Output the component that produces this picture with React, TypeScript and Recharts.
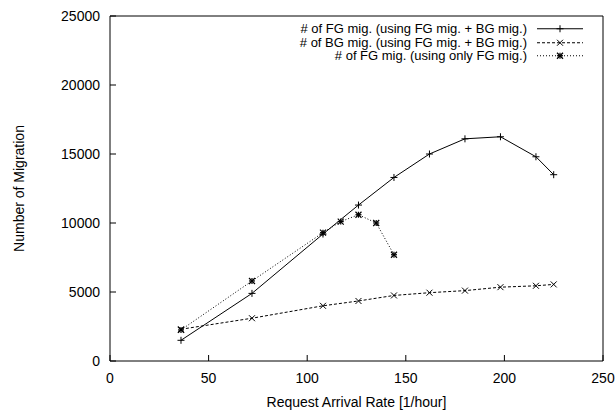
import React from 'react';
import { LineChart, Line, XAxis, YAxis, Legend } from 'recharts';

// Data
const rateBoth = [36, 72, 108, 126, 144, 162, 180, 198, 216, 225];
const fgMigBoth = [1500, 4900, 9200, 11300, 13300, 15000, 16100, 16250, 14800, 13500];
const bgMigBoth = [2300, 3100, 4000, 4350, 4750, 4950, 5100, 5350, 5450, 5550];
const rateFgOnly = [36, 72, 108, 117, 126, 135, 144];
const fgMigOnly = [2250, 5800, 9300, 10100, 10600, 10000, 7700];

const xTicks = [0, 50, 100, 150, 200, 250];
const yTicks = [0, 5000, 10000, 15000, 20000, 25000];

const seriesNames = [
  '# of FG mig. (using FG mig. + BG mig.)',
  '# of BG mig. (using FG mig. + BG mig.)',
  '# of FG mig. (using only FG mig.)',
];

const dataFgBoth = rateBoth.map((x, i) => ({ x, y: fgMigBoth[i] }));
const dataBgBoth = rateBoth.map((x, i) => ({ x, y: bgMigBoth[i] }));
const dataFgOnly = rateFgOnly.map((x, i) => ({ x, y: fgMigOnly[i] }));

const FONT = '"Liberation Sans", Arial, Helvetica, sans-serif';
const INK = '#000';

const PlusMark = ({ cx, cy, s = 3.5 }: any) => (
  <g stroke={INK} strokeWidth={1} fill="none">
    <line x1={cx - s} y1={cy} x2={cx + s} y2={cy} />
    <line x1={cx} y1={cy - s} x2={cx} y2={cy + s} />
  </g>
);
const CrossMark = ({ cx, cy, s = 3 }: any) => (
  <g stroke={INK} strokeWidth={1} fill="none">
    <line x1={cx - s} y1={cy - s} x2={cx + s} y2={cy + s} />
    <line x1={cx - s} y1={cy + s} x2={cx + s} y2={cy - s} />
  </g>
);
const StarMark = ({ cx, cy, s = 3 }: any) => (
  <g stroke={INK} strokeWidth={1.2} fill="none">
    <line x1={cx - s} y1={cy} x2={cx + s} y2={cy} />
    <line x1={cx} y1={cy - s} x2={cx} y2={cy + s} />
    <line x1={cx - s} y1={cy - s} x2={cx + s} y2={cy + s} />
    <line x1={cx - s} y1={cy + s} x2={cx + s} y2={cy - s} />
  </g>
);

const dot = (Mark: any) => (props: any) => {
  const { cx, cy, index } = props;
  if (cx == null || cy == null) return <g key={index} />;
  return <Mark key={index} cx={cx} cy={cy} />;
};

const legendStyles = [
  { dash: undefined, Mark: PlusMark },
  { dash: '3 2', Mark: CrossMark },
  { dash: '1 2', Mark: StarMark },
];

const LegendBox = () => (
  <div style={{ fontFamily: FONT, fontSize: 13, color: INK }}>
    {seriesNames.map((name, i) => {
      const st = legendStyles[i];
      return (
        <div key={i} style={{ display: 'flex', alignItems: 'center', height: 13.5 }}>
          <span style={{ width: 327, textAlign: 'right', whiteSpace: 'nowrap', lineHeight: '13.5px' }}>{name}</span>
          <svg width={56} height={13.5} style={{ marginLeft: 10, overflow: 'visible' }}>
            <line x1={0} y1={6.75} x2={46} y2={6.75} stroke={INK} strokeWidth={1} strokeDasharray={st.dash} />
            <st.Mark cx={23} cy={6.75} />
          </svg>
        </div>
      );
    })}
  </div>
);

const YLabel = (props: any) => {
  const vb = props.viewBox || {};
  const x = (vb.x ?? 0) + 19;
  const y = (vb.y ?? 0) + (vb.height ?? 0) / 2;
  return (
    <text x={x} y={y} transform={`rotate(-90 ${x} ${y})`} textAnchor="middle" dominantBaseline="central"
      fontSize={14} fontFamily={FONT} fill={INK}>
      Number of Migration
    </text>
  );
};

const XLabel = (props: any) => {
  const vb = props.viewBox || {};
  const x = (vb.x ?? 0) + (vb.width ?? 0) / 2;
  const y = (vb.y ?? 0) + 41;
  return (
    <text x={x} y={y} textAnchor="middle" dominantBaseline="central" fontSize={14} fontFamily={FONT} fill={INK}>
      Request Arrival Rate [1/hour]
    </text>
  );
};

const tickStyle = { fontSize: 14, fontFamily: FONT, fill: INK };

export default function App() {
  return (
    <div style={{ position: 'absolute', left: 0, top: 0, width: 616, height: 416, background: '#fff', fontFamily: FONT }}>
      <LineChart width={616} height={416} margin={{ top: 15, right: 12, left: 0, bottom: 0 }}>
        <XAxis
          xAxisId="bottom"
          dataKey="x"
          type="number"
          domain={[0, 250]}
          ticks={xTicks}
          orientation="bottom"
          height={55}
          tickSize={-6}
          tickMargin={18}
          tick={tickStyle}
          stroke={INK}
          axisLine={{ stroke: INK }}
          tickLine={{ stroke: INK }}
          label={<XLabel />}
          allowDataOverflow
        />
        <XAxis
          xAxisId="top"
          dataKey="x"
          type="number"
          domain={[0, 250]}
          ticks={xTicks}
          orientation="top"
          height={1}
          tickSize={-6}
          tick={false}
          stroke={INK}
          axisLine={{ stroke: INK }}
          tickLine={{ stroke: INK }}
        />
        <YAxis
          yAxisId="left"
          type="number"
          domain={[0, 25000]}
          ticks={yTicks}
          orientation="left"
          width={110}
          tickSize={-6}
          tickMargin={16}
          tick={tickStyle}
          stroke={INK}
          axisLine={{ stroke: INK }}
          tickLine={{ stroke: INK }}
          label={<YLabel />}
          allowDataOverflow
        />
        <YAxis
          yAxisId="right"
          type="number"
          domain={[0, 25000]}
          ticks={yTicks}
          orientation="right"
          width={1}
          tickSize={-6}
          tick={false}
          stroke={INK}
          axisLine={{ stroke: INK }}
          tickLine={{ stroke: INK }}
        />
        <Legend
          layout="vertical"
          align="center"
          verticalAlign="middle"
          wrapperStyle={{ top: 22, left: 200, width: 400, height: 42 }}
          content={() => <LegendBox />}
        />
        <Line
          xAxisId="bottom"
          yAxisId="left"
          data={dataFgBoth}
          dataKey="y"
          name={seriesNames[0]}
          stroke={INK}
          strokeWidth={1}
          dot={dot(PlusMark)}
          activeDot={false}
          isAnimationActive={false}
        />
        <Line
          xAxisId="bottom"
          yAxisId="left"
          data={dataBgBoth}
          dataKey="y"
          name={seriesNames[1]}
          stroke={INK}
          strokeWidth={1}
          strokeDasharray="3 2"
          dot={dot(CrossMark)}
          activeDot={false}
          isAnimationActive={false}
        />
        <Line
          xAxisId="bottom"
          yAxisId="left"
          data={dataFgOnly}
          dataKey="y"
          name={seriesNames[2]}
          stroke={INK}
          strokeWidth={1}
          strokeDasharray="1 2"
          dot={dot(StarMark)}
          activeDot={false}
          isAnimationActive={false}
        />
      </LineChart>
    </div>
  );
}
